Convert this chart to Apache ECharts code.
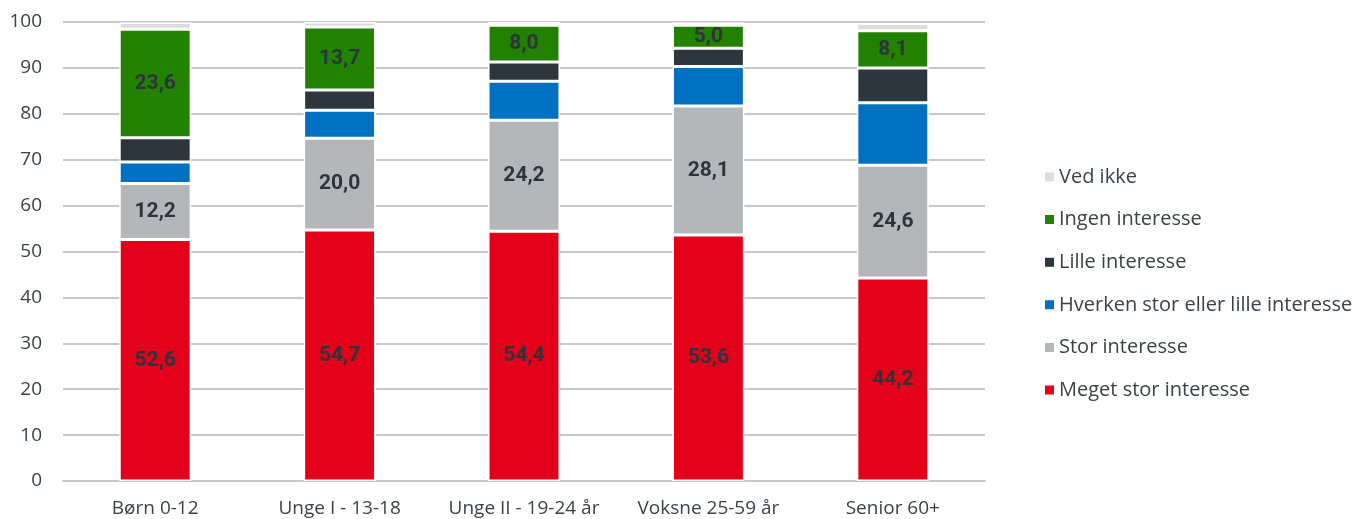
<!DOCTYPE html>
<html><head><meta charset="utf-8">
<script src="https://cdn.jsdelivr.net/npm/echarts@6/dist/echarts.min.js"></script>
<style>html,body{margin:0;padding:0;background:#fff}#c{width:1357px;height:519px}</style>
</head><body><div id="c"></div>
<script>
const categories = ["Børn 0-12", "Unge I - 13-18", "Unge II - 19-24 år", "Voksne 25-59 år", "Senior 60+"];
const megetStor = [52.6, 54.7, 54.4, 53.6, 44.2];
const stor = [12.2, 20.0, 24.2, 28.1, 24.6];
const hverken = [4.7, 6.1, 8.5, 8.6, 13.6];
const lille = [5.3, 4.4, 4.2, 4.0, 7.6];
const ingen = [23.6, 13.7, 8.0, 5.0, 8.1];
const vedIkke = [1.5, 1.1, 0.7, 0.6, 1.6];
const yTicks = [0, 10, 20, 30, 40, 50, 60, 70, 80, 90, 100];

const FONT = '"Open Sans", Roboto, sans-serif';
const LFONT = 'Roboto, "Open Sans", sans-serif';
const fmt = p => p.value.toFixed(1).replace('.', ',');
function mk(name, data, color, showLabel) {
  return {
    name, type: 'bar', stack: 'a', data, barWidth: '39%',
    itemStyle: { color, borderColor: '#fff', borderWidth: 1.5 },
    label: { show: showLabel, position: 'inside', formatter: fmt, color: '#2d353c',
      fontFamily: LFONT, fontWeight: 'bold', fontSize: 21 },
    emphasis: { disabled: true }
  };
}
const chart = echarts.init(document.getElementById('c'));
chart.setOption({
  animation: false,
  grid: { left: 63, right: 372, top: 22, bottom: 38 },
  legend: {
    orient: 'vertical', left: 1043, top: 167, padding: 0, itemWidth: 11, itemHeight: 11,
    itemGap: 22.6, icon: 'rect',
    data: ['Ved ikke', 'Ingen interesse', 'Lille interesse', 'Hverken stor eller lille interesse', 'Stor interesse', 'Meget stor interesse'],
    textStyle: { fontFamily: FONT, fontSize: 20, color: '#3c4248', lineHeight: 20, padding: [0, 0, 0, -1] }
  },
  xAxis: {
    type: 'category', data: categories,
    axisLine: { lineStyle: { color: '#c8c8c8', width: 2 } },
    axisTick: { show: false },
    axisLabel: { fontFamily: FONT, fontSize: 19, color: '#3c4248', margin: 18, interval: 0 }
  },
  yAxis: {
    type: 'value', min: 0, max: 100, interval: 10,
    axisLabel: { fontFamily: FONT, fontSize: 19, color: '#3c4248', margin: 21,
      formatter: v => yTicks.includes(v) ? String(v) : '' },
    splitLine: { lineStyle: { color: '#c8c8c8', width: 2 } }
  },
  series: [
    mk('Meget stor interesse', megetStor, '#e2001a', true),
    mk('Stor interesse', stor, '#b4b7ba', true),
    mk('Hverken stor eller lille interesse', hverken, '#0070c0', false),
    mk('Lille interesse', lille, '#2d363c', false),
    mk('Ingen interesse', ingen, '#228200', true),
    mk('Ved ikke', vedIkke, '#dcdcdf', false)
  ]
});
</script></body></html>
